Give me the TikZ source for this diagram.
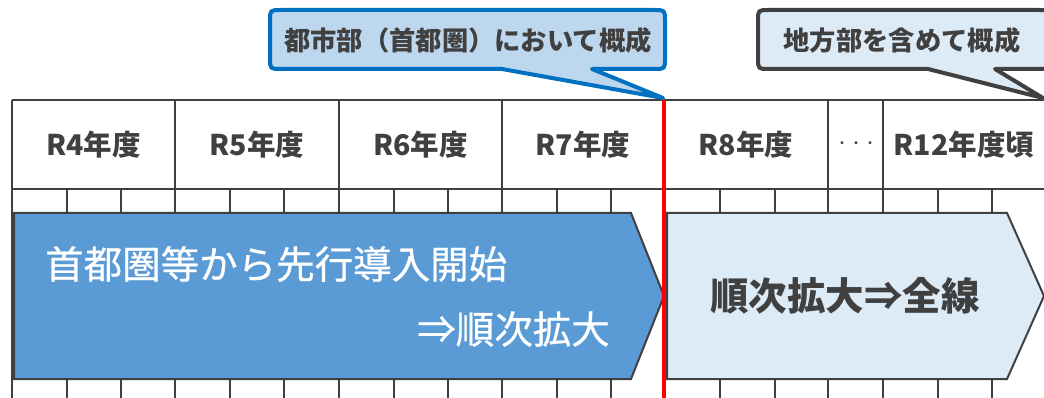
\documentclass[tikz,border=0pt]{standalone}
\usepackage{fontspec}
\setmainfont{Noto Sans CJK JP}
\newfontfamily\medfont[FakeBold=0.6]{Noto Sans CJK JP}
\definecolor{grid}{HTML}{404040}
\definecolor{txt}{HTML}{404040}
\definecolor{bluefill}{HTML}{5B9BD5}
\definecolor{lightfill}{HTML}{DDEBF7}
\definecolor{calloutfill}{HTML}{BDD7EE}
\definecolor{calloutline}{HTML}{0070C0}
\tikzset{
  gridline/.style={draw=grid, line width=2pt},
  hdr/.style={font=\bfseries\fontsize{28.5}{32}\selectfont, text=txt, inner sep=0pt},
  bigwhite/.style={font=\medfont\fontsize{38.5}{42}\selectfont, text=white, inner sep=0pt},
  bigdark/.style={font=\bfseries\fontsize{38.5}{42}\selectfont, text=txt, inner sep=0pt},
  cotext/.style={font=\bfseries\fontsize{26.3}{30}\selectfont, text=txt, inner sep=0pt},
  arrowA/.style={fill=bluefill, draw=grid, line width=2pt, line join=miter},
  arrowB/.style={fill=lightfill, draw=grid, line width=2pt, line join=miter},
  coA/.style={fill=calloutfill, draw=calloutline, line width=4pt, line join=round},
  coB/.style={fill=lightfill, draw=grid, line width=4pt, line join=round},
}
\begin{document}
\begin{tikzpicture}[x=1pt,y=-1pt]
\useasboundingbox (0,0) rectangle (1044,398);
\begin{scope}
\clip (0,0) rectangle (1044,398);
% grid
\draw[gridline] (12,100) -- (1050,100);
\draw[gridline] (12,189) -- (1050,189);
\foreach \x in {12,175,339,502,828,883}
  \draw[gridline] (\x,100) -- (\x,400);
\foreach \x in {67,121,230,284,394,448,557,611,720,775,938,992}
  \draw[gridline] (\x,189) -- (\x,400);
% header labels
\node[hdr] (r4) at (93.5,144.5) {R4年度};
\node[hdr] (r5) at (257,144.5) {R5年度};
\node[hdr] (r6) at (420.5,144.5) {R6年度};
\node[hdr] (r7) at (583,144.5) {R7年度};
\node[hdr] (r8) at (746,144.5) {R8年度};
\node[font=\fontsize{14}{16}\selectfont, text=txt, inner sep=0pt] (dots) at (856,145) {・・・};
\node[hdr] (r12) at (964,144.5) {R12年度頃};
% arrows
\draw[arrowA] (14,213) -- (631,213) -- (664,296) -- (631,379) -- (14,379) -- cycle;
\draw[arrowB] (667,213) -- (1007,213) -- (1044,296) -- (1007,379) -- (667,379) -- cycle;
\node[bigwhite, anchor=west] (l1) at (45,264) {首都圏等から先行導入開始};
\node[bigwhite, anchor=east] (l2) at (610,329) {⇒順次拡大};
\node[bigdark] (r1) at (845,296) {順次拡大⇒全線};
% red divider
\draw[red, line width=4pt] (664,100) -- (664,400);
% callouts
\draw[coA] (502,69) -- (281,69) .. controls (270,69) .. (270,58) -- (270,21)
  .. controls (270,10) .. (281,10) -- (654,10) .. controls (665,10) .. (665,21)
  -- (665,58) .. controls (665,69) .. (654,69) -- (592,69) -- (663,98) -- cycle;
\node[cotext] (c1) at (468,40) {都市部（首都圏）において概成};
\draw[coB] (928,69) -- (769,69) .. controls (758,69) .. (758,58) -- (758,21)
  .. controls (758,10) .. (769,10) -- (1038,10) .. controls (1049,10) .. (1049,21)
  -- (1049,58) .. controls (1049,69) .. (1038,69) -- (995,69) -- (1043,98) -- cycle;
\node[cotext] (c2) at (902,40) {地方部を含めて概成};
\end{scope}
\end{tikzpicture}
\end{document}
